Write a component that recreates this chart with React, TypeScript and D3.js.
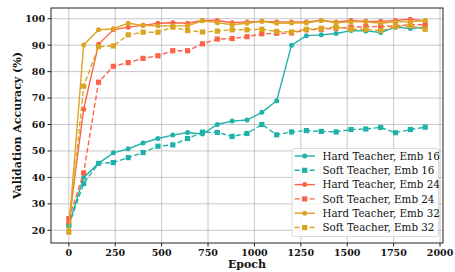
import React from 'react'
import * as d3 from 'd3'

const epochs = d3.range(0, 1921, 80)

const hard16 = [22, 40, 45.3, 49.3, 50.8, 53, 54.7, 56, 57, 56.4, 60, 61.3, 61.7, 64.6, 69, 90, 93.6, 93.9, 94.4, 95.5, 95.4, 94.8, 96.8, 96.3, 96.8]
const soft16 = [21.9, 37.7, 45.3, 45.6, 47.5, 49.4, 51.8, 52.3, 54.7, 57.1, 57, 55.5, 56.6, 60, 56.1, 57.2, 57.7, 57.4, 57.2, 58.1, 58.3, 58.9, 56.9, 58.1, 59]
const hard24 = [23, 65.8, 90.3, 95.8, 96.8, 97.5, 98.3, 98.5, 98.3, 99.3, 99.3, 98.5, 98.8, 99, 98.8, 98.8, 98.8, 99.3, 98.8, 99.3, 99, 99, 99.3, 99.8, 99.2]
const soft24 = [24.4, 41.7, 76, 82, 83.4, 85, 86, 87.9, 87.9, 90.5, 92.3, 92.5, 93.2, 94.3, 94.5, 94.6, 95.8, 96, 96.4, 96.8, 97, 97, 97.3, 97.7, 97.7]
const hard32 = [20, 90.1, 95.8, 96.2, 98.3, 97.5, 97.3, 97.3, 97.3, 99.2, 98.5, 97.7, 98.3, 99, 98.3, 98.4, 98.4, 99.3, 98.5, 98.8, 98.8, 98.3, 98.8, 98.8, 99.3]
const soft32 = [19.3, 74.5, 89.4, 89.7, 93.9, 94.9, 94.9, 96.8, 95.5, 95, 95.3, 95.8, 95.8, 96, 95.2, 95, 96, 96.4, 96.8, 96, 96, 95.5, 97, 97.3, 96]

const xTicks = [0, 250, 500, 750, 1000, 1250, 1500, 1750, 2000]
const yTicks = [20, 30, 40, 50, 60, 70, 80, 90, 100]

const series = [
  { name: 'Hard Teacher, Emb 16', values: hard16, color: '#20b2aa', dashed: false },
  { name: 'Soft Teacher, Emb 16', values: soft16, color: '#20b2aa', dashed: true },
  { name: 'Hard Teacher, Emb 24', values: hard24, color: '#ff6347', dashed: false },
  { name: 'Soft Teacher, Emb 24', values: soft24, color: '#ff6347', dashed: true },
  { name: 'Hard Teacher, Emb 32', values: hard32, color: '#daa520', dashed: false },
  { name: 'Soft Teacher, Emb 32', values: soft32, color: '#daa520', dashed: true },
]

const W = 455
const H = 272
const margin = { top: 8, right: 12, bottom: 29, left: 51 }
const serif = 'DejaVu Serif, serif'

function Marker({ x, y, color, square }: { x: number; y: number; color: string; square: boolean }) {
  if (square) return <rect x={x - 2.6} y={y - 2.6} width={5.2} height={5.2} fill={color} />
  return <circle cx={x} cy={y} r={2.5} fill={color} />
}

export default function App() {
  const x = d3.scaleLinear().domain([-96, 2016]).range([margin.left, W - margin.right])
  const y = d3.scaleLinear().domain([15.2, 104.05]).range([H - margin.bottom, margin.top])
  const line = d3
    .line<number>()
    .x((_, i) => x(epochs[i]))
    .y((d) => y(d))

  const legendX = 292
  const legendY = 148.5
  const rowH = 14.3

  return (
    <svg width={W} height={H} style={{ position: 'absolute', left: 0, top: 0 }} fontFamily={serif}>
      <rect width={W} height={H} fill='white' />
      <defs>
        <clipPath id='plot'>
          <rect x={margin.left} y={margin.top} width={W - margin.left - margin.right} height={H - margin.top - margin.bottom} />
        </clipPath>
      </defs>
      {/* grid */}
      {xTicks.map((t) => (
        <line key={'gx' + t} x1={x(t)} x2={x(t)} y1={margin.top} y2={H - margin.bottom} stroke='#b0b0b0' strokeOpacity={0.7} strokeWidth={1} />
      ))}
      {yTicks.map((t) => (
        <line key={'gy' + t} x1={margin.left} x2={W - margin.right} y1={y(t)} y2={y(t)} stroke='#b0b0b0' strokeOpacity={0.7} strokeWidth={1} />
      ))}
      {/* series */}
      <g clipPath='url(#plot)'>
        {series.map((s) => (
          <g key={s.name}>
            <path d={line(s.values) || ''} fill='none' stroke={s.color} strokeWidth={1.4} strokeDasharray={s.dashed ? '5,2.6' : undefined} />
            {s.values.map((v, i) => (
              <Marker key={i} x={x(epochs[i])} y={y(v)} color={s.color} square={s.dashed} />
            ))}
          </g>
        ))}
      </g>
      {/* frame */}
      <rect x={margin.left} y={margin.top} width={W - margin.left - margin.right} height={H - margin.top - margin.bottom} fill='none' stroke='#222' strokeWidth={1} />
      {/* ticks */}
      {xTicks.map((t) => (
        <g key={'tx' + t}>
          <line x1={x(t)} x2={x(t)} y1={H - margin.bottom} y2={H - margin.bottom + 3.5} stroke='#222' />
          <text x={x(t)} y={H - margin.bottom + 12.5} textAnchor='middle' fontSize={9.5} fontWeight='bold' fill='#111'>
            {t}
          </text>
        </g>
      ))}
      {yTicks.map((t) => (
        <g key={'ty' + t}>
          <line x1={margin.left - 3.5} x2={margin.left} y1={y(t)} y2={y(t)} stroke='#222' />
          <text x={margin.left - 6} y={y(t) + 3.4} textAnchor='end' fontSize={9.5} fontWeight='bold' fill='#111'>
            {t}
          </text>
        </g>
      ))}
      <text x={(margin.left + W - margin.right) / 2} y={267.5} textAnchor='middle' fontSize={11} fontWeight='bold' fill='#111'>
        Epoch
      </text>
      <text transform={`translate(20.5, ${(margin.top + H - margin.bottom) / 2}) rotate(-90)`} textAnchor='middle' fontSize={11} fontWeight='bold' fill='#111'>
        Validation Accuracy (%)
      </text>
      {/* legend */}
      <rect x={legendX} y={legendY} width={146.5} height={88} rx={2} fill='white' fillOpacity={0.8} stroke='#d0d0d0' strokeWidth={0.8} />
      {series.map((s, i) => {
        const cy = legendY + 7.5 + i * rowH
        return (
          <g key={'lg' + i}>
            <line x1={legendX + 2.5} x2={legendX + 23} y1={cy} y2={cy} stroke={s.color} strokeWidth={1.4} strokeDasharray={s.dashed ? '5,2.6' : undefined} />
            <Marker x={legendX + 12.7} y={cy} color={s.color} square={s.dashed} />
            <text x={legendX + 30.5} y={cy + 3.6} fontSize={10.3} fill='#111'>
              {s.name}
            </text>
          </g>
        )
      })}
    </svg>
  )
}
